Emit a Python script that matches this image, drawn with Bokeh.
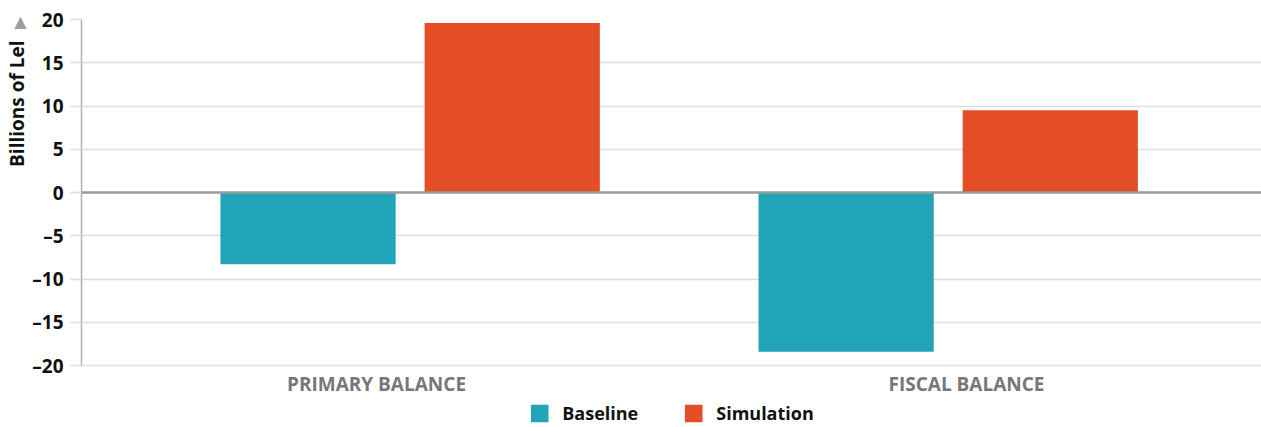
from bokeh.plotting import figure
from bokeh.models import (ColumnDataSource, FixedTicker, Legend, LegendItem,
                          Span, Title, Label, Range1d)
from bokeh.core.properties import value
from bokeh.embed import file_html
from bokeh.resources import INLINE

# Fiscal outcomes, billions of Lei
categories = ["PRIMARY BALANCE", "FISCAL BALANCE"]
baseline = [-8.3, -18.4]
simulation = [19.6, 9.5]
series_names = ["Baseline", "Simulation"]
y_ticks = [-20, -15, -10, -5, 0, 5, 10, 15, 20]
y_title = "Billions of Lel"

TEAL = "#21a3b8"
ORANGE = "#e34e26"
FONT = "Open Sans"

# layout: value axis spans 346 px; a 62 px strip below it holds the
# category names and the legend
axis_px = 346
strip_px = 62
px_per_unit = axis_px / (y_ticks[-1] - y_ticks[0])
y_bottom = y_ticks[0] - strip_px / px_per_unit
label_y = y_ticks[0] - 18 / px_per_unit

# group placement on a 0..2 category axis
category_x = [0.5, 1.5]
group_centers = [0.557, 1.469]
bar_offset = 0.173
bar_width = 0.297

p = figure(width=1261, height=427, output_backend="svg", toolbar_location=None,
           x_range=Range1d(0, 2), y_range=Range1d(y_bottom, y_ticks[-1]),
           x_axis_location=None,
           min_border_left=81, min_border_right=0, min_border_top=19,
           min_border_bottom=0, frame_width=1180, frame_height=axis_px + strip_px)
p.outline_line_color = None
p.background_fill_color = "white"
p.border_fill_color = "white"

base_src = ColumnDataSource(dict(x=[c - bar_offset for c in group_centers], top=baseline))
sim_src = ColumnDataSource(dict(x=[c + bar_offset for c in group_centers], top=simulation))

r_base = p.vbar(x="x", top="top", bottom=0, width=bar_width, source=base_src,
                fill_color=TEAL, line_color=None)
r_sim = p.vbar(x="x", top="top", bottom=0, width=bar_width, source=sim_src,
               fill_color=ORANGE, line_color=None)

# zero baseline
p.add_layout(Span(location=0, dimension="width", line_color="#9a9a9a", line_width=2.5))

# y axis
yax = p.yaxis[0]
yax.ticker = FixedTicker(ticks=y_ticks)
yax.bounds = (y_ticks[0], y_ticks[-1])
yax.major_label_overrides = {t: (f"\u2013{abs(t)}" if t < 0 else str(t)) for t in y_ticks}
yax.major_label_text_font = FONT
yax.major_label_text_font_style = "bold"
yax.major_label_text_font_size = "19px"
yax.major_label_text_color = "#111111"
yax.major_tick_out = 11
yax.major_tick_in = 0
yax.major_tick_line_color = "#dddddd"
yax.major_tick_line_width = 1.5
yax.minor_tick_line_color = None
yax.axis_line_color = "#b0b0b0"
yax.axis_line_width = 1.5
yax.major_label_standoff = 7

p.ygrid.ticker = FixedTicker(ticks=y_ticks)
p.ygrid.grid_line_color = "#dddddd"
p.ygrid.grid_line_width = 1.5
p.xgrid.grid_line_color = None

# category names under the value axis
cat_src = ColumnDataSource(dict(x=category_x, y=[label_y] * len(categories), text=categories))
p.text(x="x", y="y", text="text", source=cat_src, text_align="center",
       text_baseline="middle", text_font=value(FONT), text_font_style="bold",
       text_font_size="19px", text_color="#777777")

# vertical axis title
p.add_layout(Title(text=y_title, align="right", offset=21, text_font=FONT,
                   text_font_style="bold", text_font_size="19px",
                   text_color="#111111", standoff=0), "left")
# upward marker above the title, drawn in the top border
p.add_layout(Label(x=20 - 81, y=-2, x_units="screen", y_units="screen",
                   text="\u25b2", text_align="center", text_baseline="middle",
                   text_font="DejaVu Sans", text_font_size="16px",
                   text_color="#9e9e9e"), "above")

legend = Legend(items=[LegendItem(label=series_names[0], renderers=[r_base]),
                       LegendItem(label=series_names[1], renderers=[r_sim])],
                orientation="horizontal", location="bottom_center")
legend.label_text_font = FONT
legend.label_text_font_style = "bold"
legend.label_text_font_size = "18px"
legend.label_text_color = "#111111"
legend.glyph_width = 22
legend.glyph_height = 22
legend.label_height = 22
legend.spacing = 44
legend.label_standoff = 12
legend.padding = 0
legend.margin = 2
legend.border_line_color = None
legend.background_fill_alpha = 0
p.add_layout(legend, "center")

open("out.html", "w").write(file_html(p, INLINE))
